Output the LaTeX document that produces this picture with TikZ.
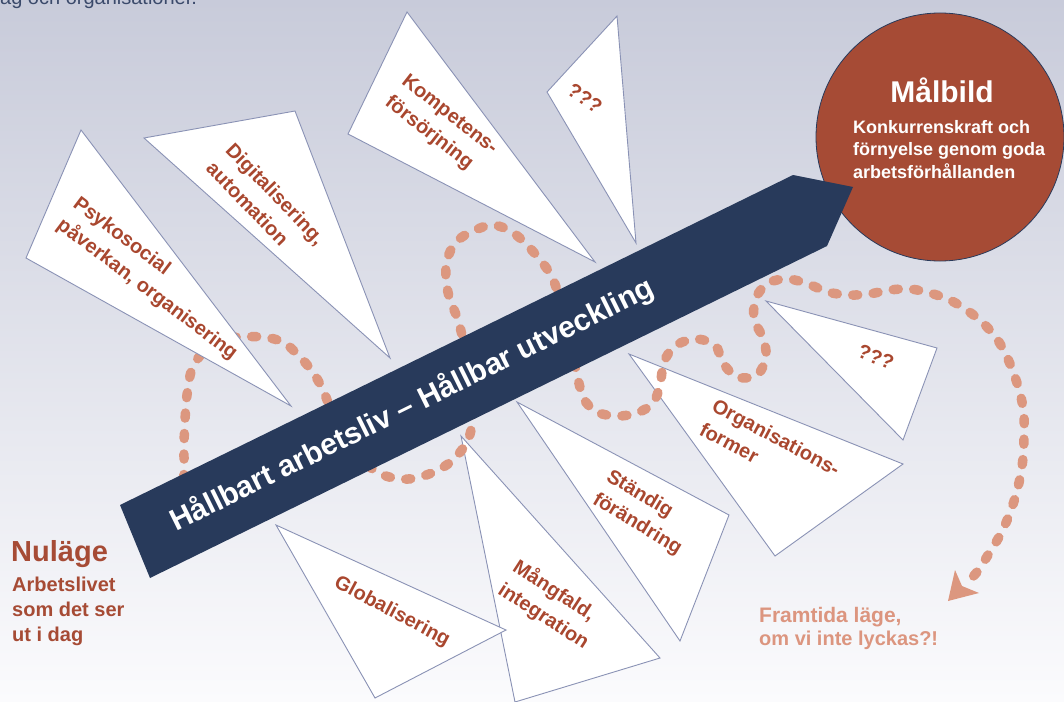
\documentclass[tikz,border=0pt]{standalone}
\usepackage{fontspec}
\setmainfont{Liberation Sans}
\definecolor{navy}{HTML}{283A5B}
\definecolor{rust}{HTML}{A64B35}
\definecolor{lbl}{HTML}{A9472F}
\definecolor{dotc}{HTML}{DC977F}
\definecolor{framc}{HTML}{DC957F}
\definecolor{triedge}{HTML}{8A92B5}
\definecolor{bgtop}{HTML}{C8CBDA}
\definecolor{bgmid}{HTML}{E2E4EC}
\definecolor{bgbot}{HTML}{FBFBFD}
\definecolor{toptext}{HTML}{3B4A6B}
\begin{document}
\begin{tikzpicture}[x=1pt,y=-1pt,
  tri/.style={fill=white,draw=triedge,line width=0.9pt,line join=miter},
  lab/.style={text=lbl,font=\bfseries\fontsize{20}{27}\selectfont,align=left,inner sep=0pt},
  trail/.style={draw=dotc,line width=9.5pt,line cap=round,dash pattern=on 5pt off 15.5pt},
  whitetxt/.style={text=white,inner sep=0pt}]
\useasboundingbox (0,0) rectangle (1064,701);
\clip (0,0) rectangle (1064,701);
\shade[top color=bgtop,middle color=bgmid,bottom color=bgbot] (0,0) rectangle (1064,701);

% cut-off heading
\node[anchor=base west,text=toptext,font=\fontsize{20}{24}\selectfont,inner sep=0pt] (toptxt) at (0,5) {ag och organisationer.};

% triangles (upper side)
\draw[tri] (144,138) -- (295,111) -- (390,358) -- cycle;
\node[lab,rotate=-46] (digi) at (266,203) {Digitalisering,\\automation};
\draw[tri] (407,12) -- (348,134) -- (595,262) -- cycle;
\node[lab,rotate=-38] (komp) at (441,126) {Kompetens-\\försörjning};
\draw[tri] (547,92) -- (617,16) -- (636,243) -- cycle;
\node[lab,rotate=-35] (q1) at (585,98) {???};

% triangles (lower side)
\draw[tri] (766,301) -- (937,348) -- (903,440) -- cycle;
\node[lab,rotate=-22] (q2) at (876,357) {???};
\draw[tri] (629,354) -- (903,464) -- (775,556) -- cycle;
\node[lab,rotate=-28] (org) at (770,449) {Organisations-\\former};
\draw[tri] (517,402) -- (729,515) -- (680,641) -- cycle;
\node[lab,rotate=-31] (stand) at (644,513) {Ständig\\förändring};
\draw[tri] (461,436) -- (660,658) -- (515,702) -- cycle;
\node[lab,rotate=-33] (mang) at (551,605) {Mångfald,\\integration};
\draw[tri] (276,525) -- (506,630) -- (375,698) -- cycle;
\node[lab,rotate=-28] (glob) at (392,612) {Globalisering};

% dotted trail
\draw[trail] plot[smooth,tension=0.55] coordinates {
 (183,500) (184,470) (184,445) (185,420) (187,395) (192,369) (205,350) (222,339)
 (242,337) (263,337) (283,342) (298,355) (312,371) (323,390) (335,420) (352,450)
 (377,472) (400,479) (420,477) (440,469) (455,458) (468,440) (472,420) (470,390)
 (465,350) (458,320) (450,300) (446,280) (447,260) (456,242) (473,231) (493,225)
 (512,232) (527,245) (541,261) (552,277) (560,300) (567,330) (574,360) (583,397)
 (597,412) (617,416) (637,413) (653,403) (660,385) (664,362) (675,346) (695,339)
 (715,345) (723,363) (737,377) (757,375) (766,357) (763,338) (754,319) (756,298)
 (768,283) (788,279) (808,284) (828,292) (848,295) (869,294) (890,290) (910,289)
 (930,293) (950,300) (968,311) (983,323) (997,339) (1007,357) (1015,377) (1021,397)
 (1024,417) (1024,438) (1023,458) (1020,478) (1015,498) (1008,518) (999,537) (988,555)
 (977,572) (963,587)};
\coordinate (headtip) at (948,601);
\fill[dotc] (headtip) -- (955,570) -- (962,586) -- (979,593) -- cycle;

% left triangle lies over the trail
\draw[tri] (81,130) -- (26,258) -- (291,406) -- cycle;
\node[lab,rotate=-37] (psy) at (155,279) {Psykosocial\\påverkan, organisering};

% goal circle
\node[circle,fill=rust,draw=navy,line width=0.8pt,minimum size=248pt,inner sep=0pt] (goal) at (940,137) {};
\node[whitetxt,font=\bfseries\fontsize{30}{36}\selectfont] (goalhead) at (942,90) {Målbild};
\node[whitetxt,anchor=north west,align=left,font=\bfseries\fontsize{18}{22.5}\selectfont] (goaltext) at (853,120) {Konkurrenskraft och\\förnyelse genom goda\\arbetsförhållanden};

% main arrow
\fill[navy] (120,505) -- (793,175) -- (853,187) -- (827,246) -- (150,578) -- cycle;
\node[whitetxt,font=\bfseries\fontsize{30}{36}\selectfont,rotate=26.3] (band) at (412,405) {Hållbart arbetsliv – Hållbar utveckling};

% current state
\node[anchor=base west,text=rust,inner sep=0pt,font=\bfseries\fontsize{29}{34}\selectfont] (now) at (11,561) {Nuläge};
\node[anchor=north west,text=rust,inner sep=0pt,align=left,font=\bfseries\fontsize{20}{25}\selectfont] (nowtext) at (12,577) {Arbetslivet\\som det ser\\ut i dag};

% future state
\node[anchor=base west,text=framc,inner sep=0pt,font=\bfseries\fontsize{21}{25}\selectfont] (fut) at (759,622) {Framtida läge,};
\node[anchor=base west,text=framc,inner sep=0pt,font=\bfseries\fontsize{20}{25}\selectfont] (futtext) at (759,645) {om vi inte lyckas?!};
\end{tikzpicture}
\end{document}
